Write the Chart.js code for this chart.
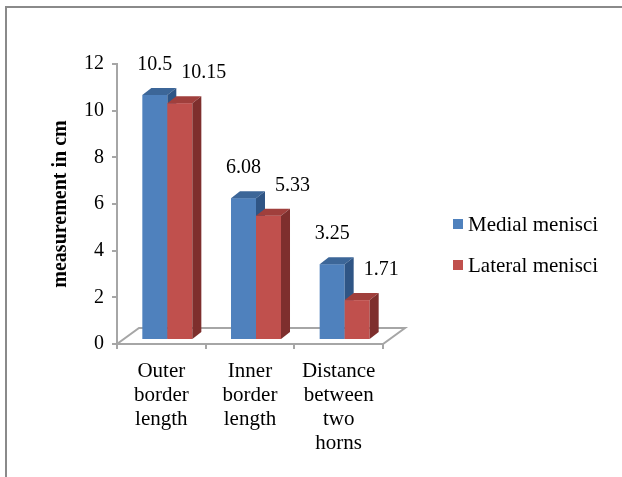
<!DOCTYPE html>
<html>
<head>
<meta charset="utf-8">
<script src="https://cdn.jsdelivr.net/npm/chart.js@4.4.1/dist/chart.umd.min.js"></script>
<style>
  html, body { margin: 0; padding: 0; background: #fff; overflow: hidden; }
  #wrap { position: relative; width: 622px; height: 477px; }
  #frame { position: absolute; left: 5px; top: 6px; width: 700px; height: 600px; border: 2px solid #8a8a8a; box-sizing: border-box; }
  #chart { position: absolute; left: 0; top: 0; }
  #legend { position: absolute; left: 453px; top: 212px; font-family: "Liberation Serif", Tinos, "Times New Roman", "DejaVu Serif", serif; font-size: 21px; color: #000; }
  .item { display: flex; align-items: center; height: 24px; margin-bottom: 17px; white-space: nowrap; }
  .swatch { width: 10px; height: 10px; margin-right: 5px; }
</style>
</head>
<body>
<div id="wrap">
  <div id="frame"></div>
  <canvas id="chart" width="622" height="477"></canvas>
  <div id="legend"></div>
</div>
<script>
// Data
const categories = [
  ["Outer", "border", "length"],
  ["Inner", "border", "length"],
  ["Distance", "between", "two", "horns"]
];
const seriesNames = ["Medial menisci", "Lateral menisci"];
const medial = [10.5, 6.08, 3.25];
const lateral = [10.15, 5.33, 1.71];
const yTicks = [0, 2, 4, 6, 8, 10, 12];

// Colours: front, top, side
const palette = [
  { front: "#4F81BD", top: "#3C6698", side: "#2F5585" },
  { front: "#C0504D", top: "#A03F3C", side: "#7E2F2D" }
];

const SHIFT = { x: 6, y: -4 };   // bars sit a little inside the floor
const DEPTH = { x: 9, y: -7 };   // bar depth
const FLOOR = { x: 22, y: -16 }; // floor depth
const AXIS_COLOR = "#a6a6a6";
const FONT = "'Liberation Serif', Tinos, 'Times New Roman', 'DejaVu Serif', serif";

// floor + 3D bars (redrawn in dataset order so the red bar hides the blue side)
const threeD = {
  id: "threeD",
  beforeDatasetsDraw(chart) {
    const { ctx, chartArea: a } = chart;
    ctx.save();
    ctx.beginPath();
    ctx.moveTo(a.left, a.bottom);
    ctx.lineTo(a.right, a.bottom);
    ctx.lineTo(a.right + FLOOR.x, a.bottom + FLOOR.y);
    ctx.lineTo(a.left + FLOOR.x, a.bottom + FLOOR.y);
    ctx.closePath();
    ctx.fillStyle = "#fff";
    ctx.fill();
    ctx.strokeStyle = AXIS_COLOR;
    ctx.lineWidth = 2;
    ctx.stroke();
    ctx.restore();
  },
  afterDatasetsDraw(chart) {
    const { ctx } = chart;
    ctx.save();
    ctx.translate(SHIFT.x, SHIFT.y);
    chart.data.datasets.forEach((ds, i) => {
      const c = palette[i];
      chart.getDatasetMeta(i).data.forEach((bar) => {
        const l = bar.x - bar.width / 2, r = bar.x + bar.width / 2;
        const t = bar.y, b = bar.base;
        ctx.fillStyle = c.front;
        ctx.fillRect(l, t, r - l, b - t);
        // top face
        ctx.beginPath();
        ctx.moveTo(l, t);
        ctx.lineTo(l + DEPTH.x, t + DEPTH.y);
        ctx.lineTo(r + DEPTH.x, t + DEPTH.y);
        ctx.lineTo(r, t);
        ctx.closePath();
        ctx.fillStyle = c.top;
        ctx.fill();
        // side face
        ctx.beginPath();
        ctx.moveTo(r, t);
        ctx.lineTo(r + DEPTH.x, t + DEPTH.y);
        ctx.lineTo(r + DEPTH.x, b + DEPTH.y);
        ctx.lineTo(r, b);
        ctx.closePath();
        ctx.fillStyle = c.side;
        ctx.fill();
      });
    });
    ctx.restore();
    // value labels
    ctx.save();
    ctx.font = "20px " + FONT;
    ctx.fillStyle = "#000";
    ctx.textAlign = "center";
    ctx.textBaseline = "middle";
    chart.data.datasets.forEach((ds, i) => {
      const dx = i === 0 ? 0 : 24;
      chart.getDatasetMeta(i).data.forEach((bar, j) => {
        ctx.fillText(String(ds.data[j]), bar.x + SHIFT.x + dx, bar.y + SHIFT.y - 30);
      });
    });
    ctx.restore();
  }
};

const chart = new Chart(document.getElementById("chart"), {
  type: "bar",
  data: {
    labels: categories,
    datasets: [
      { label: seriesNames[0], data: medial, backgroundColor: "rgba(0,0,0,0)" },
      { label: seriesNames[1], data: lateral, backgroundColor: "rgba(0,0,0,0)" }
    ]
  },
  options: {
    responsive: false,
    animation: false,
    events: [],
    layout: { padding: { top: 64, right: 239, left: 0, bottom: 0 } },
    datasets: { bar: { categoryPercentage: 0.564, barPercentage: 1 } },
    plugins: {
      legend: { display: false },
      tooltip: { enabled: false }
    },
    scales: {
      x: {
        offset: true,
        grid: { display: true, offset: true, drawOnChartArea: false, tickLength: 5, color: AXIS_COLOR, lineWidth: 2 },
        border: { display: false },
        ticks: { color: "#000", padding: 10, font: { family: FONT, size: 21, lineHeight: "24px" }, maxRotation: 0 },
        afterFit(scale) { scale.height = 133; }
      },
      y: {
        min: 0,
        max: 12,
        afterBuildTicks(scale) { scale.ticks = yTicks.map((v) => ({ value: v })); },
        grid: { display: true, drawOnChartArea: false, tickLength: 5, color: AXIS_COLOR, lineWidth: 2 },
        border: { display: true, color: AXIS_COLOR, width: 2 },
        ticks: { color: "#000", padding: 8, font: { family: FONT, size: 20 } },
        title: {
          display: true,
          text: "measurement in cm",
          color: "#000",
          font: { family: FONT, size: 20, weight: "bold" },
          padding: { top: 49, bottom: 0 }
        },
        afterFit(scale) { scale.width = 117; }
      }
    }
  },
  plugins: [threeD]
});

// legend
const legend = document.getElementById("legend");
chart.data.datasets.forEach((ds, i) => {
  const item = document.createElement("div");
  item.className = "item";
  item.innerHTML = `<span class="swatch" style="background:${palette[i].front}"></span><span>${ds.label}</span>`;
  legend.appendChild(item);
});
</script>
</body>
</html>
